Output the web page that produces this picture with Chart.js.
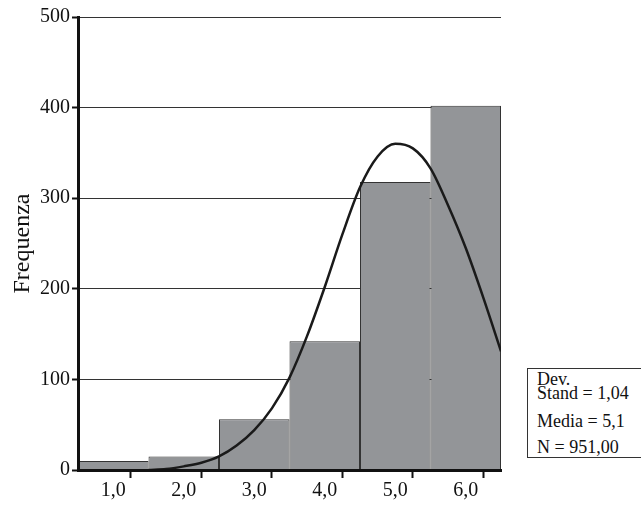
<!DOCTYPE html>
<html>
<head>
<meta charset="utf-8">
<title>Frequenza</title>
<script src="https://cdn.jsdelivr.net/npm/chart.js"></script>
<style>
  html, body { margin: 0; padding: 0; background: #fff; overflow: hidden; }
  #wrap { position: relative; width: 641px; height: 513px; }
  #stats { position: absolute; left: 527px; top: 368px; width: 130px; height: 88px;
           border: 1px solid #333; background: #fff; font: 18px "Liberation Serif", "Times New Roman", serif; color: #111; }
  #stats span { position: absolute; left: 9px; line-height: 20px; white-space: nowrap; }
</style>
</head>
<body>
<div id="wrap">
  <canvas id="hist" width="641" height="513"></canvas>
  <div id="stats">
    <span style="top:0px">Dev.</span>
    <span style="top:14px">Stand = 1,04</span>
    <span style="top:42px">Media = 5,1</span>
    <span style="top:68px">N = 951,00</span>
  </div>
</div>
<script>
// histogram bins
const binCenters = [1, 2, 3, 4, 5, 6];
const binLabels = ['1,0', '2,0', '3,0', '4,0', '5,0', '6,0'];
const frequencies = [10, 15, 56, 142, 318, 402];
// fitted normal curve, sampled every 0.25 along the x axis
const curveX = [1.5, 1.75, 2.0, 2.25, 2.5, 2.75, 3.0, 3.25, 3.5, 3.75, 4.0, 4.25, 4.5, 4.75, 5.0, 5.25, 5.5, 5.75, 6.0, 6.25, 6.5];
const curveY = [0, 1, 4, 8, 15, 27, 44, 68, 102, 148, 202, 260, 312, 346, 360, 355, 333, 292, 245, 190, 131];
const yTicks = [0, 100, 200, 300, 400, 500];

const serif = '"Liberation Serif", "Times New Roman", serif';
const edges = binCenters.map(c => c - 0.5).concat([binCenters[binCenters.length - 1] + 0.5]);

new Chart(document.getElementById('hist').getContext('2d'), {
  type: 'bar',
  data: {
    datasets: [{
      type: 'line',
      order: 0,
      xAxisID: 'x2',
      data: curveX.map((x, i) => ({x: x, y: curveY[i]})),
      borderColor: '#1a1a1a',
      borderWidth: 2.5,
      pointRadius: 0,
      cubicInterpolationMode: 'monotone',
      fill: false
    }, {
      type: 'bar',
      order: 1,
      xAxisID: 'x',
      data: binCenters.map((x, i) => ({x: x, y: frequencies[i]})),
      backgroundColor: '#939598',
      borderColor: '#333',
      borderWidth: 1,
      borderSkipped: 'bottom',
      // bars centred on their value; the x ticks sit every half bin,
      // so twice the smallest tick gap is one full bin
      grouped: false,
      barPercentage: 2,
      categoryPercentage: 1
    }]
  },
  options: {
    responsive: false,
    animation: false,
    layout: { padding: { top: 17, right: 140, left: 0, bottom: 0 } },
    plugins: { legend: { display: false }, tooltip: { enabled: false } },
    scales: {
      x: {
        type: 'linear',
        offset: false,
        min: 0.5,
        max: 6.5,
        afterBuildTicks: s => {
          s.ticks = edges.concat(binCenters).sort((a, b) => a - b).map(v => ({value: v}));
        },
        afterFit: s => { s.height = 43; },
        ticks: {
          autoSkip: false,
          maxRotation: 0,
          padding: 1,
          color: '#111',
          font: { family: serif, size: 20 },
          callback: v => {
            const i = binCenters.indexOf(v);
            return i >= 0 ? binLabels[i] : '';
          }
        },
        grid: {
          drawOnChartArea: false,
          tickLength: 8,
          tickWidth: 2,
          tickColor: c => (c.tick && binCenters.includes(c.tick.value)) ? 'rgba(0,0,0,0)' : '#111'
        },
        border: { color: '#111', width: 3, z: 1 }
      },
      // hidden axis for the curve, same range as the bins
      x2: {
        type: 'linear',
        display: false,
        offset: false,
        min: 0.5,
        max: 6.5
      },
      y: {
        min: 0,
        max: 500,
        afterBuildTicks: s => { s.ticks = yTicks.map(v => ({value: v})); },
        afterFit: s => { s.width = 78; },
        ticks: {
          padding: 2,
          color: '#111',
          font: { family: serif, size: 20 }
        },
        grid: {
          color: '#333',
          lineWidth: 1,
          tickLength: 6,
          tickWidth: 2,
          tickColor: '#111'
        },
        border: { color: '#111', width: 3, z: 1 },
        title: {
          display: true,
          text: 'Frequenza',
          color: '#111',
          font: { family: serif, size: 24 },
          padding: { top: 8, bottom: 0 }
        }
      }
    }
  }
});
</script>
</body>
</html>
